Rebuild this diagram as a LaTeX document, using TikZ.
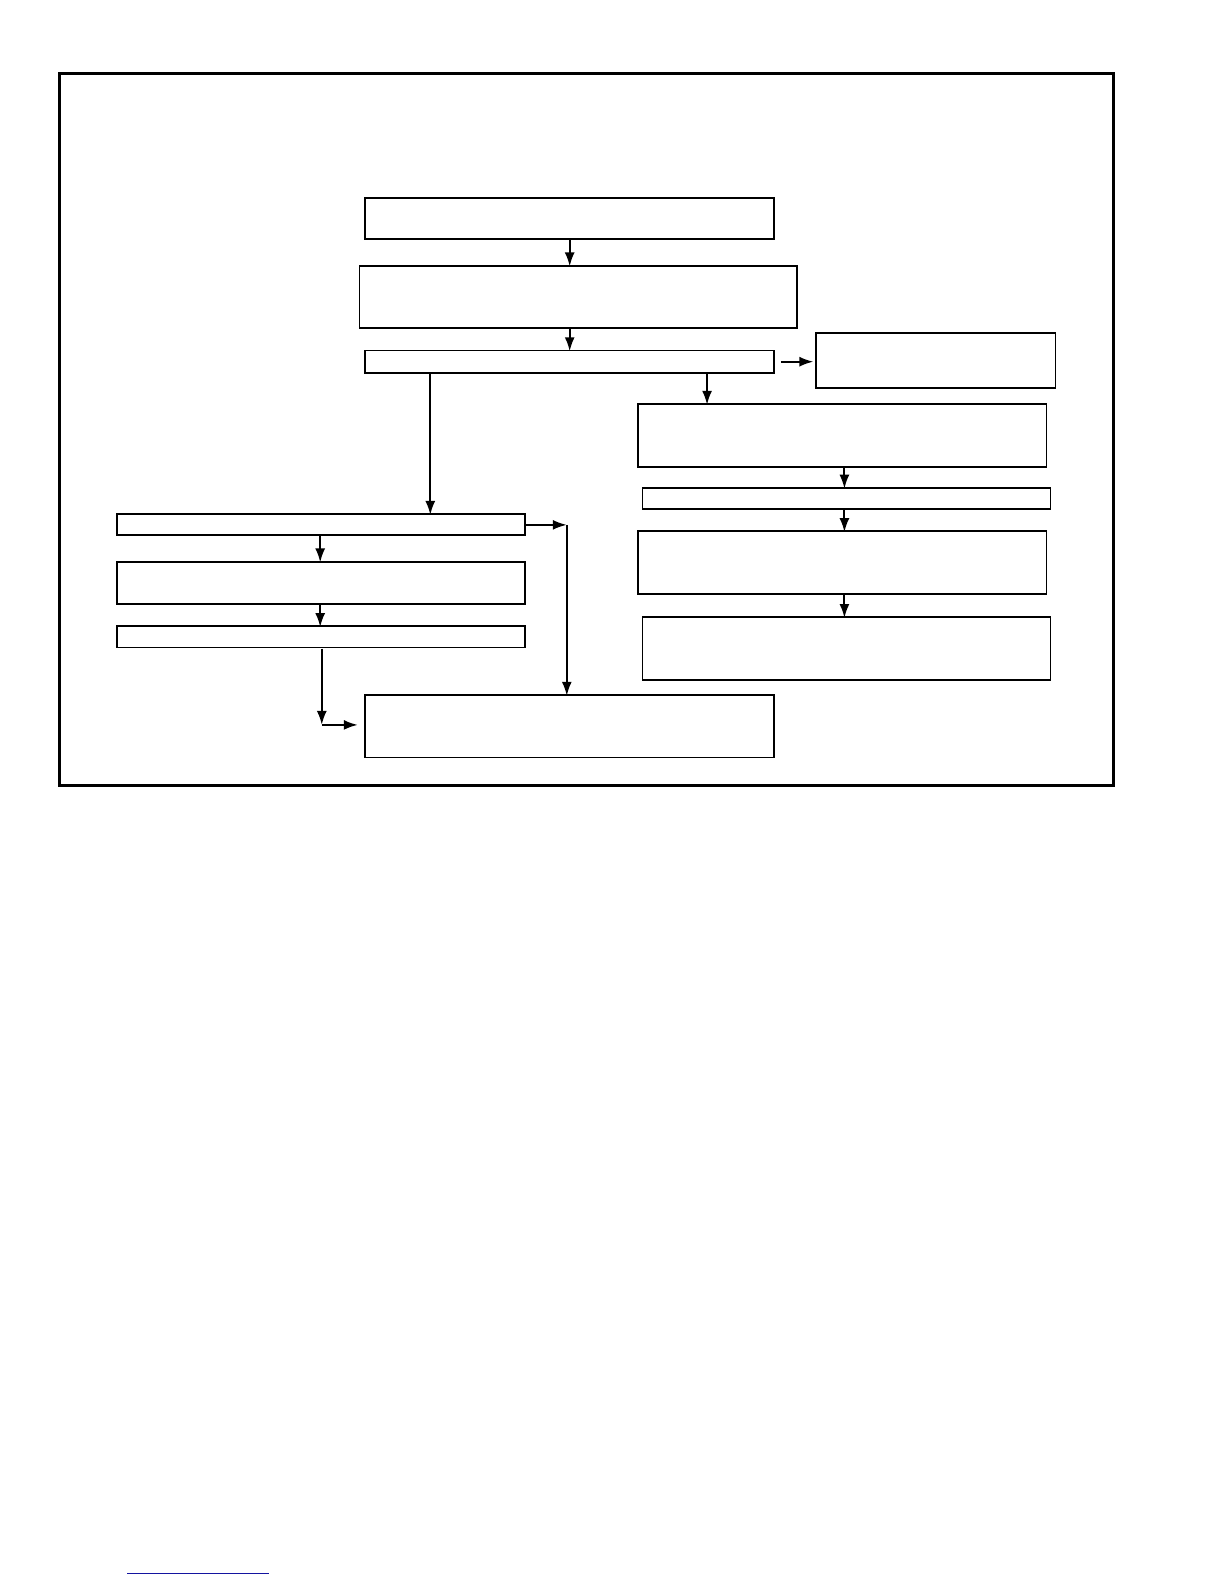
\documentclass[tikz,border=0pt]{standalone}
\definecolor{myBlue}{RGB}{20,20,160}
\usetikzlibrary{arrows.meta,positioning}
\begin{document}
\begin{tikzpicture}[
      x=0.5pt,y=-0.5pt,scale=1.0101,
      mybox/.style args={#1x#2}{
         draw=black,
         line width=0.9pt,
         inner sep=0pt,
         transform shape,
         minimum width=#1,
         minimum height=#2},
      myarrow/.style={-{Latex[length=7pt,width=5pt]},line width=1pt,
         shorten >=-0.8pt}
      ]
      \useasboundingbox (0,0) rectangle (1211.8,1568.2);
      \draw[line width=1.4pt] (59,73) rectangle (1102,778);

      % middle column
      \node[mybox=202.5pt x 20.5pt] (a) at (563.5,216.5) {};
      \node[mybox=216.5pt x 31pt] (b) at (572.5,294) {};
      \node[mybox=202.5pt x 11pt] (c) at (563.5,358) {};
      \node[mybox=118.5pt x 27pt] (d) at (926.5,357) {};
      % right column
      \node[mybox=202pt x 31pt] (e) at (834,431) {};
      \node[mybox=202pt x 10.5pt] (f) at (838,493.5) {};
      \node[mybox=202pt x 31pt] (g) at (834,557) {};
      \node[mybox=202pt x 31pt] (h) at (838,642) {};
      % left column
      \node[mybox=202pt x 10.5pt] (l1) at (318,519.5) {};
      \node[mybox=202pt x 21pt] (l2) at (318,577) {};
      \node[mybox=202pt x 10.5pt] (l3) at (318,630.5) {};
      \node[mybox=202.5pt x 31pt] (z) at (563.5,719) {};

      \coordinate (k1) at (318.5,717.5);
      \coordinate (k2) at (561,519.5);

    \foreach \i/\j/\x in {% upper box/lower box/x of arrow
      a/b/564, b/c/564, c/e/700, c/l1/426, e/f/836, f/g/836, g/h/836,
      l1/l2/317, l2/l3/317}
    \draw [myarrow] (\i.south -| \x,0) -- (\j.north -| \x,0);

    \draw[myarrow,shorten <=3pt,shorten >=1pt] (c.east) -- (c.east -| d.west);

    \draw[myarrow,shorten >=0pt] (l3.south -| k1) -- (k1);
    \draw[myarrow,shorten >=3pt] (k1) -- (k1 -| z.west);
    \draw[myarrow,shorten >=0pt] (l1.east) -- (k2);
    \draw[myarrow] (k2) -- (k2 |- z.north);

    \draw[myBlue,line width=0.6pt] (126,1558) -- (266,1558);
    \end{tikzpicture}
\end{document}
